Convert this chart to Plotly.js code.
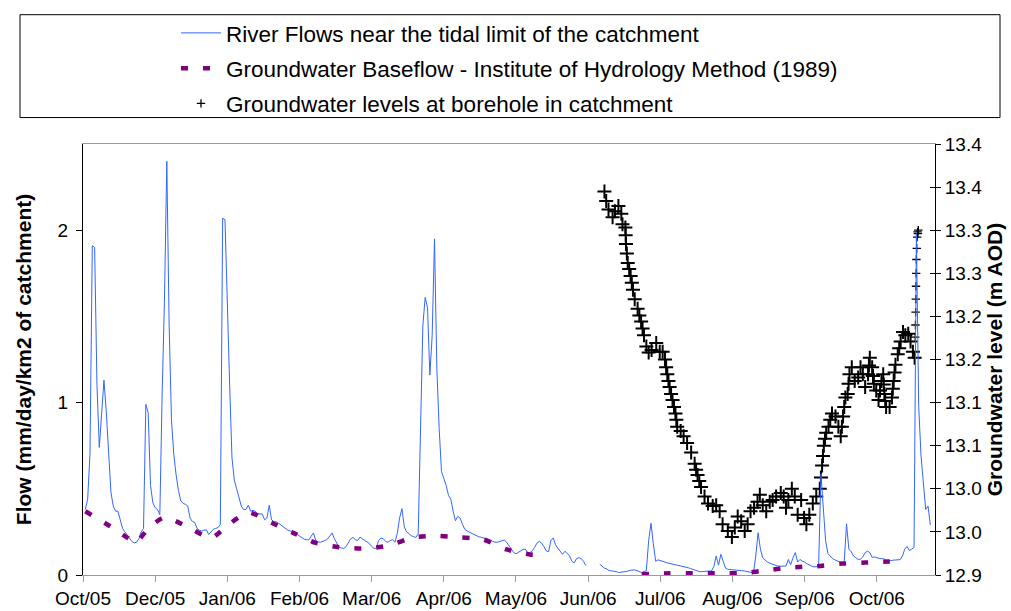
<!DOCTYPE html>
<html>
<head>
<meta charset="utf-8">
<script src="https://cdn.plot.ly/plotly-3.0.1.min.js"></script>
<style>html,body{margin:0;padding:0;background:#fff;}#chart{width:1011px;height:611px;}</style>
</head>
<body>
<div id="chart"></div>
<script>
// ---------------- DATA ----------------
// Daily river flows (mm/day/km2), one array per month, day 1 first
const flowNov05 = [0.38,0.44,0.70,1.91,1.90,1.10,0.74,0.95,1.13,0.95,0.68,0.48,0.40,0.37,0.37,0.32,0.27,0.25,0.23,0.21,0.195,0.186,0.19,0.21,0.25,0.27,0.99,0.94,0.52,0.42];
const flowDec05 = [0.39,0.38,0.35,1.05,1.60,2.40,1.45,0.90,0.70,0.58,0.49,0.43,0.415,0.41,0.40,0.33,0.31,0.305,0.27,0.26,0.255,0.26,0.262,0.235,0.25,0.265,0.27,0.275,0.294,2.07,2.06];
const flowJan06 = [1.54,1.10,0.68,0.55,0.50,0.445,0.40,0.379,0.38,0.405,0.37,0.375,0.37,0.354,0.354,0.354,0.32,0.33,0.405,0.32,0.31,0.308,0.30,0.29,0.277,0.27,0.26,0.255,0.253,0.25,0.235];
const flowFeb06 = [0.225,0.215,0.208,0.205,0.203,0.225,0.244,0.20,0.192,0.19,0.193,0.20,0.208,0.225,0.244,0.21,0.185,0.16,0.157,0.153,0.165,0.19,0.21,0.218,0.205,0.20,0.22,0.21];
const flowMar06 = [0.20,0.19,0.183,0.165,0.155,0.155,0.20,0.215,0.21,0.195,0.19,0.20,0.205,0.19,0.24,0.33,0.385,0.28,0.25,0.24,0.228,0.222,0.218,0.24,0.85,1.45,1.61,1.55,1.16,1.39,1.95];
const flowApr06 = [1.20,0.85,0.60,0.56,0.52,0.462,0.44,0.37,0.315,0.34,0.33,0.295,0.265,0.255,0.248,0.243,0.232,0.226,0.222,0.219,0.216,0.212,0.209,0.203,0.195,0.19,0.19,0.195,0.20,0.203];
const flowMay06 = [0.19,0.172,0.15,0.13,0.123,0.13,0.138,0.148,0.15,0.13,0.13,0.14,0.16,0.185,0.195,0.185,0.165,0.14,0.135,0.20,0.215,0.175,0.155,0.135,0.12,0.138,0.125,0.112,0.08,0.07,0.095];
const flowJun06 = [0.10,0.095,0.08,0.055,null,null,null,null,null,0.062,0.05,0.04,0.035,0.026,0.024,0.023,0.02,0.014,0.015,0.018,0.019,0.022,0.027,0.03,0.03,0.025,0.02,0.014,0.02,0.025];
const flowJul06 = [0.20,0.30,0.18,0.08,0.088,0.085,0.081,0.075,0.07,0.067,0.063,0.06,0.058,0.057,0.053,0.05,0.047,0.042,0.037,0.032,0.027,0.022,0.019,0.02,0.022,0.023,0.023,0.023,0.05,0.11,0.057];
const flowAug06 = [0.12,0.08,0.04,0.033,0.031,0.03,0.028,0.027,0.026,0.025,0.024,0.022,0.019,0.015,0.01,0.11,0.245,0.15,0.10,0.085,0.075,0.068,0.062,0.058,0.054,0.051,0.051,0.051,0.052,0.09,0.06];
const flowSep06 = [0.10,0.13,0.075,0.09,0.08,0.075,0.065,0.057,0.052,0.047,0.047,0.05,0.587,0.38,0.20,0.125,0.11,0.095,0.088,0.08,0.076,0.076,0.075,0.297,0.15,0.135,0.11,0.10,0.09,0.092];
const flowOct06 = [0.105,0.13,0.138,0.13,0.102,0.105,0.10,0.096,0.095,0.094,0.085,0.082,0.083,0.086,0.088,0.089,0.089,0.11,0.15,0.165,0.142,0.15,0.16,1.98,0.98,0.69,0.55,0.38,0.40,0.29];
const flowMonths = ['2005-11','2005-12','2006-01','2006-02','2006-03','2006-04','2006-05','2006-06','2006-07','2006-08','2006-09','2006-10'];

// Groundwater baseflow (IH 1989 method), two separated runs
const baseDates1 = ['2005-11-01','2005-11-12','2005-11-21','2005-11-23','2005-11-28','2005-12-05','2005-12-15','2005-12-25','2006-01-02','2006-01-10','2006-01-20','2006-01-30','2006-02-08','2006-02-18','2006-03-01','2006-03-11','2006-03-22','2006-04-01','2006-04-11','2006-04-21','2006-05-01','2006-05-11','2006-05-13'];
const baseFlow1  = [0.37,0.28,0.20,0.19,0.27,0.335,0.278,0.215,0.297,0.364,0.303,0.24,0.186,0.161,0.153,0.17,0.218,0.227,0.218,0.206,0.148,0.119,0.117];
const baseDates2 = ['2006-06-28','2006-07-10','2006-07-20','2006-07-31','2006-08-11','2006-08-21','2006-08-31','2006-09-11','2006-09-22','2006-10-02','2006-10-12','2006-10-16'];
const baseFlow2  = [0.005,0.01,0.01,0.01,0.012,0.028,0.044,0.051,0.066,0.072,0.078,0.079];

// Groundwater levels at borehole (m AOD) - dense logger record
const gwTimes = ['2006-06-12 00:00','2006-06-12 18:00','2006-06-13 18:00','2006-06-15 12:00','2006-06-16 12:00','2006-06-18 00:00','2006-06-19 06:00','2006-06-19 18:00','2006-06-21 00:00','2006-06-21 06:00',
'2006-06-22 00:00','2006-06-23 06:00','2006-06-24 06:00','2006-06-25 00:00','2006-06-26 06:00','2006-06-27 18:00','2006-06-29 00:00','2006-06-30 00:00','2006-07-01 00:00','2006-07-02 06:00',
'2006-07-04 06:00','2006-07-05 18:00','2006-07-07 00:00','2006-07-08 00:00','2006-07-09 00:00','2006-07-10 00:00','2006-07-11 06:00','2006-07-12 12:00','2006-07-13 06:00','2006-07-14 18:00',
'2006-07-16 00:00','2006-07-17 12:00','2006-07-19 06:00','2006-07-20 18:00','2006-07-22 00:00','2006-07-23 12:00','2006-07-25 00:00','2006-07-26 12:00','2006-07-28 12:00','2006-07-30 00:00',
'2006-07-31 12:00','2006-08-01 18:00','2006-08-04 00:00','2006-08-05 18:00','2006-08-07 00:00','2006-08-08 06:00','2006-08-09 18:00','2006-08-11 06:00','2006-08-12 12:00','2006-08-13 18:00',
'2006-08-15 06:00','2006-08-16 18:00','2006-08-17 18:00','2006-08-19 00:00','2006-08-20 12:00','2006-08-22 00:00','2006-08-23 06:00','2006-08-24 18:00','2006-08-26 18:00','2006-08-28 00:00',
'2006-08-29 00:00','2006-08-30 00:00','2006-08-31 12:00','2006-09-01 18:00','2006-09-03 00:00','2006-09-04 12:00','2006-09-05 18:00','2006-09-06 18:00','2006-09-08 00:00','2006-09-09 12:00',
'2006-09-11 00:00','2006-09-12 12:00','2006-09-13 12:00','2006-09-14 06:00','2006-09-15 06:00','2006-09-16 06:00','2006-09-17 18:00','2006-09-19 06:00','2006-09-20 12:00','2006-09-21 12:00',
'2006-09-22 12:00','2006-09-23 12:00','2006-09-24 12:00','2006-09-25 06:00','2006-09-26 06:00','2006-09-27 12:00','2006-09-29 00:00','2006-09-30 00:00','2006-10-01 00:00','2006-10-02 00:00',
'2006-10-03 06:00','2006-10-04 00:00','2006-10-05 00:00','2006-10-05 18:00','2006-10-06 18:00','2006-10-07 18:00','2006-10-09 00:00','2006-10-09 18:00','2006-10-10 06:00','2006-10-11 00:00',
'2006-10-12 12:00','2006-10-13 12:00','2006-10-14 06:00','2006-10-15 00:00','2006-10-16 00:00','2006-10-17 06:00','2006-10-18 06:00','2006-10-19 06:00','2006-10-20 12:00','2006-10-21 12:00',
'2006-10-22 12:00','2006-10-23 06:00',
// additional readings along the steep stretches
'2006-06-21 03:00','2006-06-21 15:00','2006-06-22 15:00','2006-06-23 18:00','2006-06-27 00:00','2006-06-28 09:00','2006-07-08 12:00','2006-07-09 12:00','2006-07-10 15:00','2006-07-11 21:00',
'2006-07-12 21:00','2006-07-21 09:00','2006-07-22 18:00','2006-09-13 00:00','2006-09-13 21:00','2006-09-14 18:00','2006-09-17 00:00','2006-09-22 00:00','2006-09-23 00:00','2006-09-24 21:00',
'2006-10-03 15:00','2006-10-05 09:00','2006-10-08 09:00','2006-10-10 00:00','2006-10-10 15:00','2006-10-13 21:00','2006-10-14 15:00','2006-10-16 15:00'];
const gwLevels = [13.345,13.334,13.324,13.315,13.322,13.328,13.319,13.307,13.303,13.284,
13.262,13.247,13.231,13.22,13.209,13.194,13.178,13.165,13.158,13.161,
13.169,13.159,13.159,13.15,13.133,13.118,13.103,13.0875,13.072,13.067,
13.061,13.053,13.042,13.029,13.016,13.002,12.991,12.983,12.98,12.981,
12.974,12.959,12.951,12.944,12.955,12.968,12.9625,12.951,12.959,12.974,
12.978,12.985,12.993,12.981,12.974,12.985,12.987,12.991,12.995,12.991,
12.978,12.987,13.0,12.991,12.97,12.987,12.966,12.959,12.97,12.983,
12.991,13.0,13.027,13.05,13.065,13.072,13.0875,13.084,13.072,13.061,
13.084,13.106,13.11,13.133,13.141,13.125,13.129,13.141,13.133,13.118,
13.133,13.152,13.141,13.122,13.114,13.103,13.125,13.133,13.11,13.095,
13.095,13.106,13.125,13.144,13.156,13.171,13.182,13.178,13.18,13.171,
13.159,13.152,
13.294,13.273,13.255,13.239,13.201,13.186,13.141,13.125,13.11,13.095,
13.08,13.022,13.009,13.013,13.038,13.058,13.08,13.072,13.095,13.122,
13.143,13.131,13.114,13.121,13.102,13.116,13.135,13.163];
// Groundwater levels - sparse readings during the late-October rise
const gwRiseTimes = ['2006-10-23 12:00','2006-10-23 14:00','2006-10-23 16:00','2006-10-23 18:00','2006-10-23 20:00','2006-10-23 22:00','2006-10-24 00:00','2006-10-24 04:00','2006-10-24 08:00','2006-10-24 12:00','2006-10-24 16:00','2006-10-24 20:00'];
const gwRiseLevels = [13.176,13.19,13.205,13.22,13.235,13.25,13.266,13.279,13.292,13.298,13.296,13.30];

// Axis ticks
const xTickDates  = ['2005-10-31','2005-12-01','2006-01-01','2006-02-01','2006-03-04','2006-04-04','2006-05-05','2006-06-05','2006-07-06','2006-08-06','2006-09-06','2006-10-07'];
const xTickLabels = ['Oct/05','Dec/05','Jan/06','Feb/06','Mar/06','Apr/06','May/06','Jun/06','Jul/06','Aug/06','Sep/06','Oct/06'];
const gwTickVals   = [12.9,12.95,13.0,13.05,13.1,13.15,13.2,13.25,13.3,13.35,13.4];
const gwTickLabels = ['12.9','13.0','13.0','13.1','13.1','13.2','13.2','13.3','13.3','13.4','13.4'];
const flowTickVals = [0,1,2];
const flowTickLabels = ['0','1','2'];

// ---------------- BUILD ----------------
const flowArrays = [flowNov05,flowDec05,flowJan06,flowFeb06,flowMar06,flowApr06,flowMay06,flowJun06,flowJul06,flowAug06,flowSep06,flowOct06];
const riverX = [], riverY = [];
flowArrays.forEach((arr, m) => {
  arr.forEach((v, i) => {
    riverX.push(flowMonths[m] + '-' + String(i + 1).padStart(2, '0'));
    riverY.push(v);
  });
});
const baseX = baseDates1.concat([null], baseDates2);
const baseY = baseFlow1.concat([null], baseFlow2);

const FONT = 'Liberation Sans, Arial, Helvetica, sans-serif';

const traces = [
  {
    name: 'Groundwater levels at borehole in catchment',
    x: gwTimes, y: gwLevels, yaxis: 'y', type: 'scatter', mode: 'markers',
    marker: {symbol: 'cross-thin', size: 10, color: 'black', line: {color: 'black', width: 2}},
    legendgroup: 'g3', showlegend: false
  },
  {
    name: 'Groundwater levels at borehole in catchment',
    x: gwRiseTimes, y: gwRiseLevels, yaxis: 'y', type: 'scatter', mode: 'markers',
    marker: {symbol: 'cross-thin', size: 6, color: 'black', line: {color: 'black', width: 1.3}},
    legendgroup: 'g3', legendrank: 3
  },
  {
    name: 'River Flows near the tidal limit of the catchment',
    x: riverX, y: riverY, yaxis: 'y2', type: 'scatter', mode: 'lines',
    line: {color: '#3366FF', width: 1},
    legendgroup: 'g1', legendrank: 1
  },
  {
    name: 'Groundwater Baseflow - Institute of Hydrology Method (1989)',
    x: baseX, y: baseY, yaxis: 'y2', type: 'scatter', mode: 'lines',
    line: {color: '#800080', width: 4.5, dash: '7px,15px', shape: 'spline', smoothing: 0.6},
    legendgroup: 'g2', legendrank: 2
  },
  {
    x: [], y: [], yaxis: 'y3', type: 'scatter', mode: 'markers', showlegend: false, hoverinfo: 'skip'
  }
];

const pw = 852, ph = 440, ml = 83, mt = 135;
const px = v => (v - ml) / pw;
const py = v => 1 + (mt - v) / ph;

const layout = {
  width: 1011, height: 611,
  margin: {l: 83, r: 76, t: 135, b: 36, pad: 0},
  paper_bgcolor: 'white', plot_bgcolor: 'white',
  font: {family: FONT, color: 'black', size: 19},
  showlegend: true,
  legend: {
    x: px(176), y: py(0), xanchor: 'left', yanchor: 'top',
    font: {family: FONT, size: 22.5, color: 'black'},
    bgcolor: 'rgba(0,0,0,0)', borderwidth: 0,
    traceorder: 'grouped', tracegroupgap: 3, itemwidth: 40
  },
  xaxis: {
    type: 'date', range: ['2005-10-31', '2006-11-01'],
    tickmode: 'array', tickvals: xTickDates, ticktext: xTickLabels,
    ticks: 'outside', ticklen: 6, tickcolor: '#9a9a9a', tickwidth: 1,
    showline: true, linecolor: '#9a9a9a', linewidth: 1, mirror: true,
    showgrid: false, zeroline: false,
    tickfont: {family: FONT, size: 19, color: 'black'}, ticklabelstandoff: 0
  },
  yaxis: {
    side: 'right', range: [12.9, 13.4],
    tickmode: 'array', tickvals: gwTickVals, ticktext: gwTickLabels,
    ticks: 'outside', ticklen: 5, tickcolor: 'black',
    showline: true, linecolor: 'black', linewidth: 1,
    showgrid: false, zeroline: false,
    tickfont: {family: FONT, size: 19, color: 'black'},
    title: {text: '<b>Groundwater level (m AOD)</b>', font: {family: FONT, size: 21, color: 'black'}, standoff: 6}
  },
  yaxis2: {
    overlaying: 'y', side: 'left', range: [0, 2.5],
    tickmode: 'array', tickvals: flowTickVals, ticktext: flowTickLabels,
    ticks: 'outside', ticklen: 6, tickcolor: 'black',
    showline: true, linecolor: 'black', linewidth: 1,
    showgrid: false, zeroline: false,
    tickfont: {family: FONT, size: 19, color: 'black'}, ticklabelstandoff: 4,
    title: {text: '<b>Flow (mm/day/km2 of catchment)</b>', font: {family: FONT, size: 21, color: 'black'}, standoff: 20}
  },
  yaxis3: {
    overlaying: 'y', side: 'right', range: [12.9, 13.4],
    tickmode: 'array', tickvals: gwTickVals, showticklabels: false,
    ticks: 'inside', ticklen: 5, tickcolor: 'black',
    showline: false, showgrid: false, zeroline: false
  },
  shapes: [
    {type: 'rect', xref: 'paper', yref: 'paper', x0: px(20), x1: px(1000), y0: py(108), y1: py(3),
     line: {color: 'black', width: 1}, fillcolor: 'rgba(0,0,0,0)', layer: 'above'}
  ]
};

Plotly.newPlot('chart', traces, layout, {staticPlot: true, displayModeBar: false});
</script>
</body>
</html>
